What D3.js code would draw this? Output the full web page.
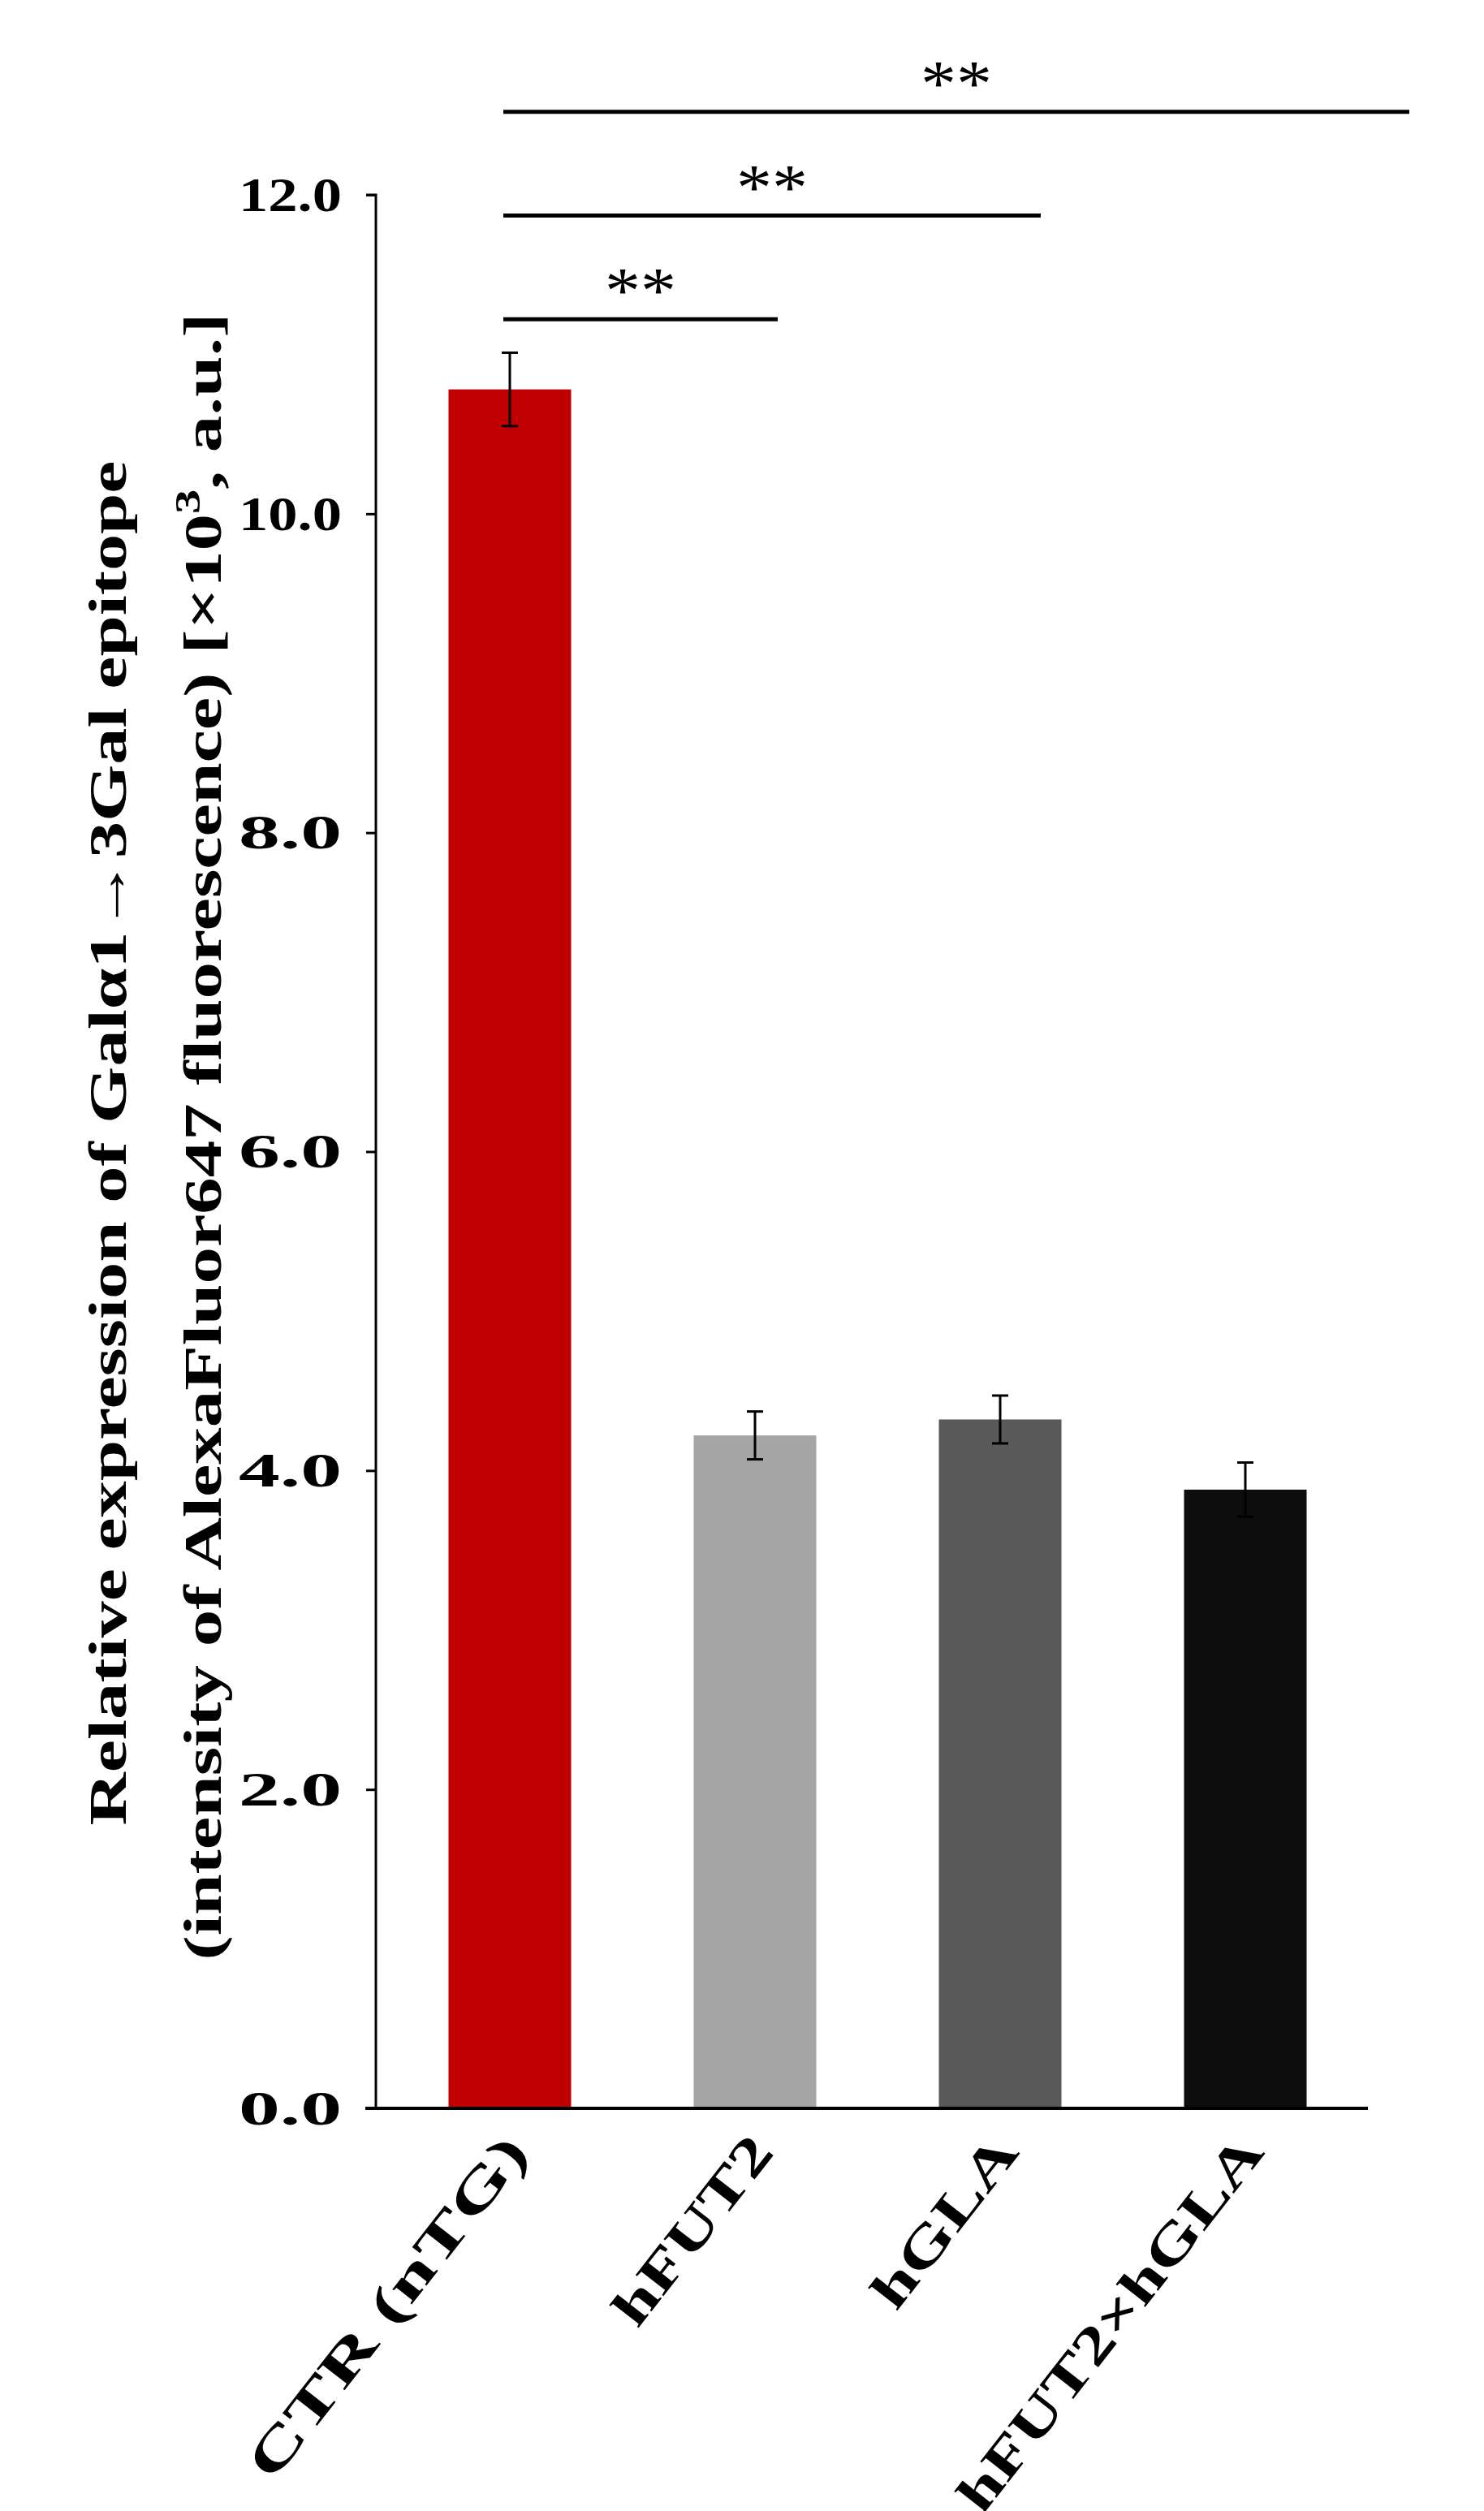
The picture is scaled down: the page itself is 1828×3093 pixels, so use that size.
<!DOCTYPE html>
<html><head><meta charset="utf-8">
<script src="https://cdn.jsdelivr.net/npm/d3@7"></script>
<style>body{margin:0;background:#fff}</style>
</head><body>
<svg id="chart" width="1828" height="3093"></svg>
<script>
// ---- data ----
const groups = ["CTR (nTG)", "hFUT2", "hGLA", "hFUT2×hGLA"];
const means = [10.78, 4.22, 4.32, 3.88];
const errors = [0.23, 0.15, 0.15, 0.17];
const colors = ["#c00000", "#a6a6a6", "#595959", "#0d0d0d"];
const yTicks = [0, 2, 4, 6, 8, 10, 12];
// significance brackets: from group 0 to given group, level in y units
const sigTo = [1, 2, 3];
const sigLevel = [11.22, 11.87, 12.52];
const labelLen = [516, 276, 249, 567];

const svg = d3.select("#chart");
const font = "'Liberation Serif', 'Times New Roman', serif";

const x = d3.scaleBand().domain(groups).range([477, 1685]).paddingInner(0.5).paddingOuter(0.25);
const y = d3.scaleLinear().domain([0, 12]).range([2597, 240]);

// bars
svg.selectAll("rect.bar").data(groups).enter().append("rect")
  .attr("x", d => x(d))
  .attr("y", (d, i) => y(means[i]))
  .attr("width", x.bandwidth())
  .attr("height", (d, i) => y(0) - y(means[i]))
  .attr("fill", (d, i) => colors[i]);

// error bars
const eb = svg.append("g").attr("stroke", "#000").attr("stroke-width", 3);
groups.forEach((g, i) => {
  const cx = x(g) + x.bandwidth() / 2;
  eb.append("line").attr("x1", cx).attr("x2", cx).attr("y1", y(means[i] - errors[i])).attr("y2", y(means[i] + errors[i]));
  [means[i] - errors[i], means[i] + errors[i]].forEach(v =>
    eb.append("line").attr("x1", cx - 10).attr("x2", cx + 10).attr("y1", y(v)).attr("y2", y(v)));
});

// y axis
const yAxis = svg.append("g").attr("transform", "translate(463,0)")
  .call(d3.axisLeft(y).tickValues(yTicks).tickFormat(d3.format(".1f")).tickSize(12).tickPadding(30));
yAxis.select(".domain").attr("stroke-width", 3).attr("d", `M-12,${y(12)}H0V${y(0)}`);
yAxis.selectAll(".tick line").attr("stroke-width", 3);
yAxis.selectAll(".tick text").attr("font-family", font).attr("font-weight", "bold").attr("font-size", 60)
  .attr("textLength", 127).attr("lengthAdjust", "spacingAndGlyphs");

// x axis line
svg.append("line").attr("x1", 450).attr("x2", 1685).attr("y1", y(0)).attr("y2", y(0))
  .attr("stroke", "#000").attr("stroke-width", 4);

// x labels
groups.forEach((g, i) => {
  const cx = x(g) + x.bandwidth() / 2 + 25;
  svg.append("text")
    .attr("transform", `translate(${cx},${y(0) + 55}) rotate(-52)`)
    .attr("text-anchor", "end")
    .attr("font-family", font).attr("font-weight", "bold").attr("font-size", 66)
    .attr("textLength", labelLen[i]).attr("lengthAdjust", "spacingAndGlyphs")
    .text(g);
});

// significance
sigTo.forEach((j, k) => {
  const x1 = 620;
  const x2 = [958, 1282, 1736][k];
  const yy = y(sigLevel[k]);
  svg.append("line").attr("x1", x1).attr("x2", x2).attr("y1", yy).attr("y2", yy)
    .attr("stroke", "#000").attr("stroke-width", 5);
  svg.append("text").attr("x", (x1 + x2) / 2).attr("y", yy - 8)
    .attr("text-anchor", "middle").attr("font-family", font).attr("font-size", 80)
    .attr("textLength", 88).attr("lengthAdjust", "spacingAndGlyphs")
    .text("**");
});

// y title
const t1 = svg.append("text")
  .attr("transform", "translate(155,1408) rotate(-90)")
  .attr("text-anchor", "middle")
  .attr("font-family", font).attr("font-weight", "bold").attr("font-size", 66)
  .attr("textLength", 1681).attr("lengthAdjust", "spacingAndGlyphs")
  .text("Relative expression of Galα1→3Gal epitope");
const t2 = svg.append("text")
  .attr("transform", "translate(272,1400) rotate(-90)")
  .attr("text-anchor", "middle")
  .attr("font-family", font).attr("font-weight", "bold").attr("font-size", 66)
  .attr("textLength", 2029).attr("lengthAdjust", "spacingAndGlyphs");
t2.append("tspan").text("(intensity of AlexaFluor647 fluorescence) [×10");
t2.append("tspan").attr("dy", -26).attr("font-size", 44).text("3");
t2.append("tspan").attr("dy", 26).text(", a.u.]");
</script>
</body></html>
